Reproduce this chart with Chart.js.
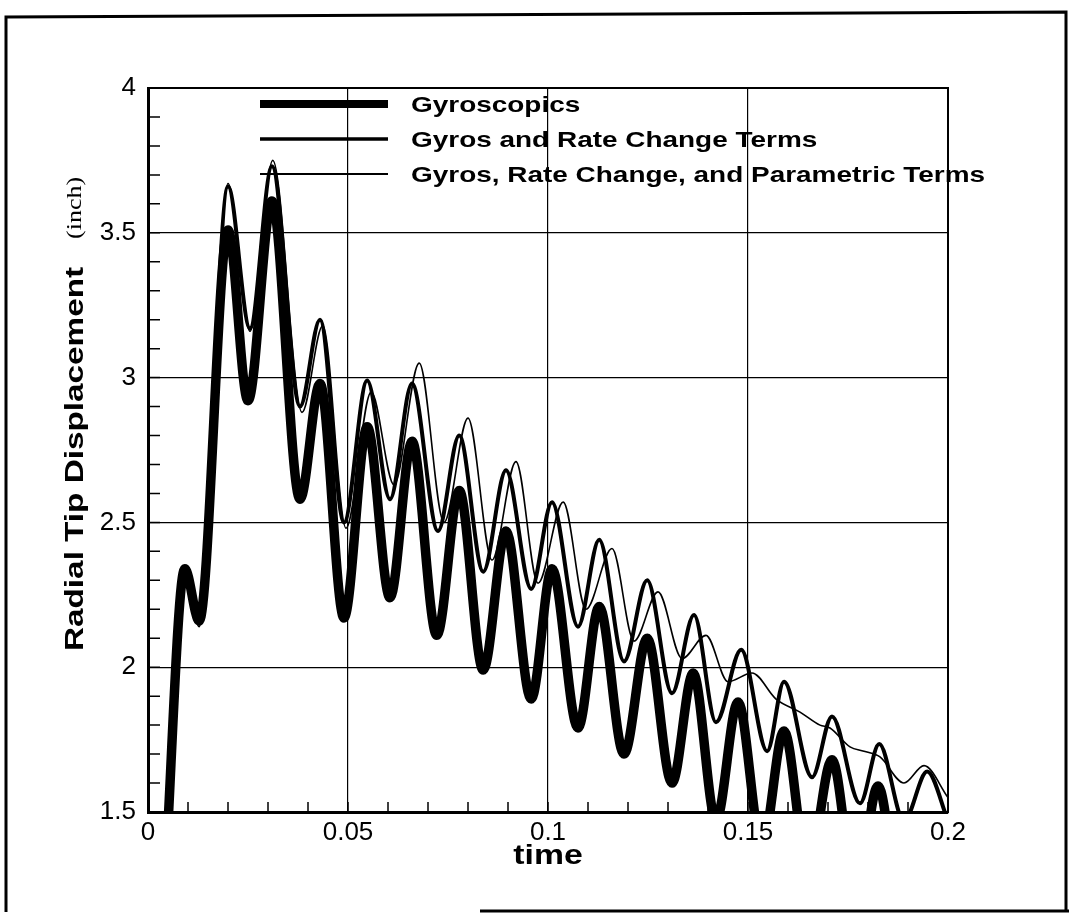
<!DOCTYPE html>
<html>
<head>
<meta charset="utf-8">
<script src="https://cdn.jsdelivr.net/npm/chart.js@4.4.0/dist/chart.umd.min.js"></script>
<style>
body { margin: 0; background: #fff; }
#wrap { position: relative; width: 1069px; height: 914px; }
</style>
</head>
<body>
<div id="wrap"><canvas id="lineChart" width="1069" height="914"></canvas></div>
<script>
// series names (legend)
var seriesNames = ['Gyroscopics', 'Gyros and Rate Change Terms', 'Gyros, Rate Change, and Parametric Terms'];

// Gyroscopics (thick)
var gyroTime = [0.004, 0.0092, 0.0128, 0.020, 0.025, 0.031, 0.038, 0.043, 0.049, 0.0548, 0.0605, 0.066, 0.0722, 0.0778, 0.0838, 0.0895, 0.0958, 0.101, 0.1075, 0.1128, 0.119, 0.1248, 0.131, 0.1363, 0.142, 0.1475, 0.1535, 0.159, 0.165, 0.171, 0.177, 0.1825, 0.1885, 0.194, 0.2];
var gyroDisp = [1.2, 2.34, 2.16, 3.51, 2.92, 3.61, 2.58, 2.98, 2.17, 2.83, 2.24, 2.78, 2.11, 2.61, 1.99, 2.47, 1.89, 2.34, 1.79, 2.21, 1.70, 2.10, 1.60, 1.98, 1.47, 1.88, 1.38, 1.78, 1.30, 1.68, 1.22, 1.59, 1.15, 1.47, 1.1];

// Gyros and Rate Change Terms (medium)
var rateTime = [0.004, 0.0092, 0.0128, 0.020, 0.0255, 0.031, 0.038, 0.043, 0.049, 0.0548, 0.0605, 0.066, 0.0725, 0.0778, 0.0838, 0.0895, 0.0958, 0.101, 0.1075, 0.1128, 0.119, 0.1248, 0.131, 0.1365, 0.142, 0.1483, 0.1548, 0.159, 0.166, 0.171, 0.178, 0.1828, 0.189, 0.1948, 0.2];
var rateDisp = [1.2, 2.34, 2.15, 3.66, 3.17, 3.73, 2.90, 3.20, 2.50, 2.99, 2.58, 2.98, 2.47, 2.80, 2.33, 2.68, 2.27, 2.57, 2.14, 2.44, 2.02, 2.30, 1.91, 2.18, 1.81, 2.06, 1.71, 1.95, 1.62, 1.83, 1.53, 1.735, 1.47, 1.64, 1.47];

// Gyros, Rate Change, and Parametric Terms (thin)
var paramTime = [0.004, 0.0092, 0.0128, 0.020, 0.0255, 0.0312, 0.0385, 0.0437, 0.0495, 0.0558, 0.0615, 0.0678, 0.074, 0.080, 0.086, 0.092, 0.0975, 0.1038, 0.1095, 0.116, 0.1215, 0.1275, 0.1335, 0.1395, 0.145, 0.151, 0.157, 0.163, 0.168, 0.1705, 0.1755, 0.179, 0.183, 0.189, 0.194, 0.2];
var paramDisp = [1.2, 2.33, 2.14, 3.67, 3.16, 3.75, 2.88, 3.18, 2.48, 2.95, 2.63, 3.05, 2.50, 2.86, 2.37, 2.71, 2.29, 2.57, 2.20, 2.41, 2.09, 2.26, 2.03, 2.11, 1.95, 1.98, 1.89, 1.845, 1.80, 1.79, 1.725, 1.71, 1.69, 1.60, 1.66, 1.55];

// axes
var xTicks = [0, 0.05, 0.1, 0.15, 0.2];
var xTickLabels = ['0', '0.05', '0.1', '0.15', '0.2'];
var yTicks = [1.5, 2, 2.5, 3, 3.5, 4];
var yTickLabels = ['1.5', '2', '2.5', '3', '3.5', '4'];

function toPoints(ts, ys) {
  var pts = [];
  for (var i = 0; i < ts.length; i++) {
    pts.push({x: ts[i], y: ys[i]});
  }
  return pts;
}

function stretchText(ctx, text, x, y, sx) {
  ctx.save();
  ctx.translate(x, y);
  ctx.scale(sx, 1);
  ctx.fillText(text, 0, 0);
  var w = ctx.measureText(text).width * sx;
  ctx.restore();
  return w;
}

// page frame, box, minor ticks, titles and legend
var decorations = {
  id: 'decorations',
  beforeDraw: function(chart) {
    var ctx = chart.ctx;
    ctx.save();
    ctx.fillStyle = '#fff';
    ctx.fillRect(0, 0, chart.width, chart.height);
    ctx.strokeStyle = '#000';
    ctx.lineWidth = 3;
    ctx.beginPath();
    ctx.moveTo(6, 912); ctx.lineTo(6, 17); ctx.lineTo(1066, 12); ctx.lineTo(1066, 912);
    ctx.moveTo(480, 911); ctx.lineTo(1069, 911);
    ctx.stroke();
    ctx.restore();
  },
  beforeDatasetsDraw: function(chart) {
    var ctx = chart.ctx;
    var xs = chart.scales.x, ys = chart.scales.y;
    var a = chart.chartArea;
    ctx.save();
    ctx.strokeStyle = '#000';
    ctx.lineWidth = 1.5;
    ctx.beginPath();
    for (var i = 1; i < 20; i++) {
      var px = xs.getPixelForValue(i * 0.01);
      ctx.moveTo(px, a.bottom); ctx.lineTo(px, a.bottom - 10);
    }
    for (var j = 1; j < 25; j++) {
      var py = ys.getPixelForValue(1.5 + j * 0.1);
      ctx.moveTo(a.left, py); ctx.lineTo(a.left + 12, py);
    }
    ctx.stroke();
    ctx.lineWidth = 2;
    ctx.strokeRect(a.left, a.top, a.right - a.left, a.bottom - a.top);
    ctx.restore();
  },
  afterDraw: function(chart) {
    var ctx = chart.ctx;
    ctx.save();
    ctx.fillStyle = '#000';
    ctx.textBaseline = 'alphabetic';
    ctx.textAlign = 'left';

    // x title
    ctx.font = 'bold 27px "Liberation Sans", Arial, sans-serif';
    var tw = ctx.measureText('time').width * 1.25;
    stretchText(ctx, 'time', 548 - tw / 2, 864, 1.25);

    // y title
    ctx.save();
    ctx.translate(83, 651);
    ctx.rotate(-Math.PI / 2);
    ctx.font = 'bold 26px "Liberation Sans", Arial, sans-serif';
    var w = stretchText(ctx, 'Radial Tip Displacement', 0, 0, 1.28);
    ctx.font = '20px "Liberation Serif", "Times New Roman", serif';
    stretchText(ctx, '(inch)', w + 28, -2, 1.3);
    ctx.restore();

    // legend
    var rows = [104, 139, 174];
    chart.data.datasets.forEach(function(ds, i) {
      ctx.strokeStyle = '#000';
      ctx.lineWidth = ds.legendWidth;
      ctx.beginPath();
      ctx.moveTo(260, rows[i]); ctx.lineTo(388, rows[i]);
      ctx.stroke();
      ctx.font = 'bold 22px "Liberation Sans", Arial, sans-serif';
      stretchText(ctx, ds.label, 411, rows[i] + 8, 1.27);
    });
    ctx.restore();
  }
};

var ctxL = document.getElementById('lineChart').getContext('2d');
var myLineChart = new Chart(ctxL, {
  type: 'line',
  data: {
    datasets: [{
      label: seriesNames[0],
      data: toPoints(gyroTime, gyroDisp),
      borderColor: '#000',
      borderWidth: 9.5,
      legendWidth: 8
    }, {
      label: seriesNames[1],
      data: toPoints(rateTime, rateDisp),
      borderColor: '#000',
      borderWidth: 4,
      legendWidth: 3.5
    }, {
      label: seriesNames[2],
      data: toPoints(paramTime, paramDisp),
      borderColor: '#000',
      borderWidth: 1.6,
      legendWidth: 2
    }]
  },
  options: {
    responsive: false,
    animation: false,
    layout: { padding: { top: 88, right: 121, left: 0, bottom: 0 } },
    elements: {
      point: { radius: 0 },
      line: { cubicInterpolationMode: 'monotone', borderCapStyle: 'round', borderJoinStyle: 'round' }
    },
    datasets: { line: { clip: 0 } },
    plugins: { legend: { display: false }, tooltip: { enabled: false } },
    scales: {
      x: {
        type: 'linear',
        min: xTicks[0],
        max: xTicks[xTicks.length - 1],
        afterBuildTicks: function(scale) {
          scale.ticks = xTicks.map(function(v) { return {value: v}; });
        },
        afterFit: function(scale) { scale.height = 102; },
        grid: { color: '#000', lineWidth: 1.2, drawTicks: false },
        border: { display: true, color: '#000', width: 3 },
        ticks: {
          color: '#000',
          padding: 5,
          maxRotation: 0,
          font: { family: '"Liberation Sans", Arial, sans-serif', size: 26 },
          callback: function(value, index) { return xTickLabels[index]; }
        }
      },
      y: {
        type: 'linear',
        min: yTicks[0],
        max: yTicks[yTicks.length - 1],
        afterBuildTicks: function(scale) {
          scale.ticks = yTicks.map(function(v) { return {value: v}; });
        },
        afterFit: function(scale) { scale.width = 148; },
        grid: { color: '#000', lineWidth: 1.2, drawTicks: false },
        border: { display: true, color: '#000', width: 3 },
        ticks: {
          color: '#000',
          padding: 12,
          font: { family: '"Liberation Sans", Arial, sans-serif', size: 26 },
          callback: function(value, index) { return yTickLabels[index]; }
        }
      }
    }
  },
  plugins: [decorations]
});
</script>
</body>
</html>
